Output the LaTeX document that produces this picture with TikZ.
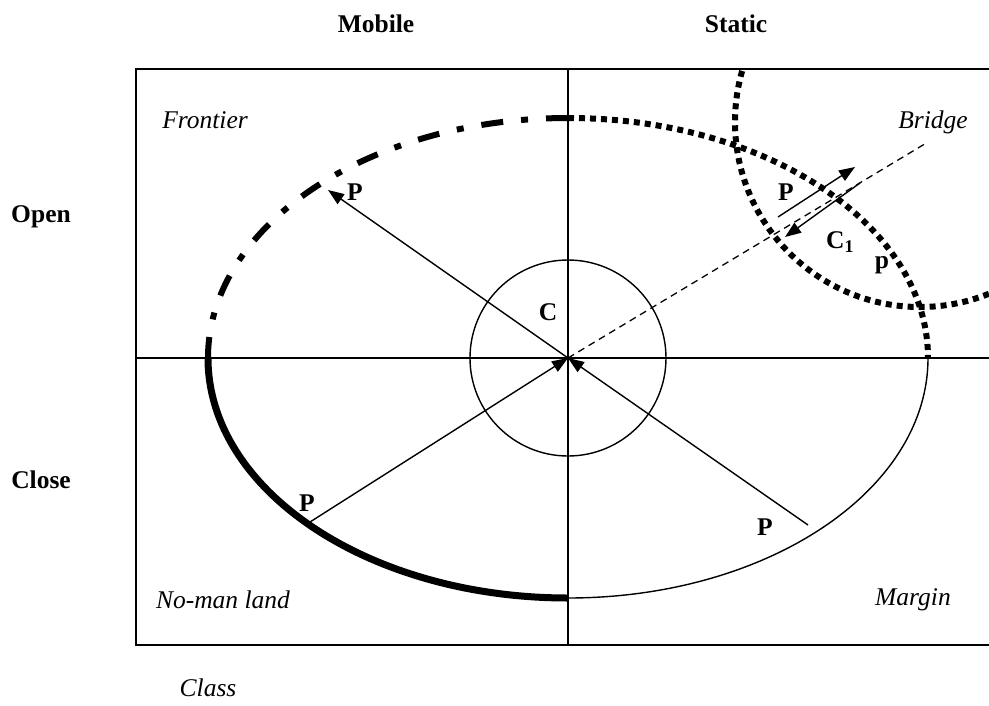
\documentclass[tikz,border=0pt]{standalone}
\usepackage{fontspec}
\setmainfont{Liberation Serif}
\usepackage{tikz}
\usetikzlibrary{arrows.meta,positioning,calc}
\tikzset{
  hdr/.style={font=\fontsize{25.5}{30}\selectfont\bfseries, inner sep=0pt},
  zone/.style={font=\fontsize{25.5}{30}\selectfont\itshape, inner sep=0pt},
  tag/.style={font=\fontsize{25.5}{30}\selectfont\bfseries, inner sep=0pt},
  frame/.style={line width=2pt},
  thin/.style={line width=1.4pt},
  arr/.style={-{Triangle[length=16pt,width=12pt]}, line width=1.4pt},
  dashdotted/.style={line width=6pt, dash pattern=on 22pt off 18pt on 7pt off 18pt},
  dotline/.style={line width=6pt, dash pattern=on 6pt off 5pt},
  heavy/.style={line width=7pt},
  guide/.style={line width=1.3pt, dash pattern=on 7pt off 5pt}
}

\begin{document}
\begin{tikzpicture}[x=1pt, y=-1pt]
  \useasboundingbox (0,0) rectangle (989,705);
  \clip (0,0) rectangle (989,705);
  % frame and quadrants
  \draw[frame] (136,69) rectangle (1010,645);
  \draw[frame] (568,69) -- (568,645);
  \draw[frame] (136,358) -- (1010,358);
  \coordinate (O) at (568,358);
  % ellipse in four quarters
  \draw[dashdotted] (568,118) arc[start angle=-90, end angle=-180, x radius=360, y radius=240];
  \draw[dotline] (568,118) arc[start angle=-90, end angle=0, x radius=360, y radius=240];
  \draw[heavy] (208,358) arc[start angle=180, end angle=90, x radius=360, y radius=240];
  \draw[thin] (568,598) arc[start angle=90, end angle=0, x radius=360, y radius=240];
  % core circle
  \draw[thin] (O) circle[radius=98];
  % bridge circle
  \begin{scope}
    \clip (136,69) rectangle (1010,645);
    \draw[dotline] (920,122) circle[radius=185];
  \end{scope}
  \coordinate (gEnd) at (928,142);
  \draw[guide] (O) -- (gEnd);
  % arrows
  \coordinate (pF) at (328,190);
  \coordinate (pN) at (310,522);
  \coordinate (pM) at (808,525);
  \draw[arr] (O) -- (pF);
  \draw[arr] (pN) -- (O);
  \draw[arr] (pM) -- (O);
  \coordinate (bOut1) at (778,217);
  \coordinate (bOut2) at (855,167);
  \coordinate (bIn1) at (860,183);
  \coordinate (bIn2) at (785,237);
  \draw[arr] (bOut1) -- (bOut2);
  \draw[arr] (bIn1) -- (bIn2);
  % headings
  \node[hdr] (mob) at (376,24) {Mobile};
  \node[hdr] (sta) at (736,24) {Static};
  \node[hdr] (opn) at (41,217) {Open};
  \node[hdr] (cls) at (41,480) {Close};
  % zones
  \node[zone] (fro) at (205,120) {Frontier};
  \node[zone] (bri) at (933,122) {Bridge};
  \node[zone] (nml) at (223,600) {No-man land};
  \node[zone] (mar) at (913,600) {Margin};
  \node[zone] (cla) at (208,688) {Class};
  % labels
  \node[tag] (lC) at (548,312) {C};
  \node[tag] (lPF) at (355,192) {P};
  \node[tag] (lPN) at (307,503) {P};
  \node[tag] (lPM) at (765,527) {P};
  \node[tag] (lPB) at (786,192) {P};
  \node[tag] (lC1) at (840,242) {C\textsubscript{1}};
  \node[tag] (lp) at (882,265) {p};
\end{tikzpicture}
\end{document}
